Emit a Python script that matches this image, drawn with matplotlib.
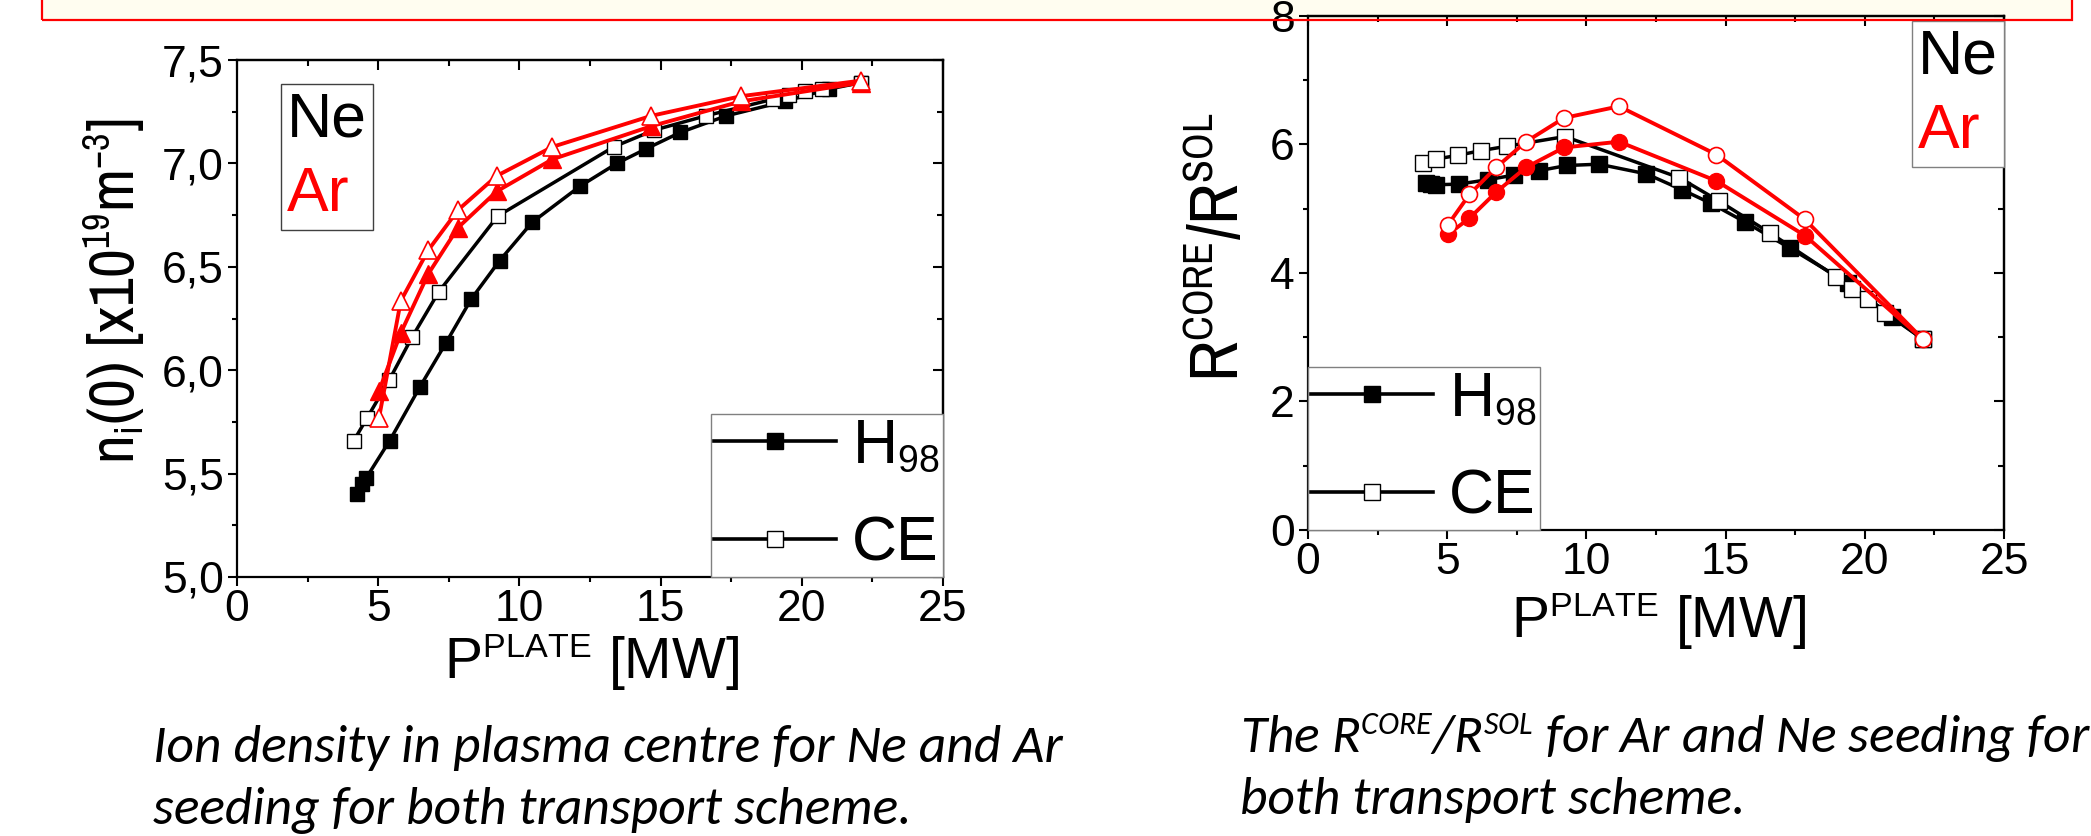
import matplotlib
matplotlib.use("Agg")
import matplotlib.pyplot as plt
import matplotlib.font_manager as fm
import matplotlib._mathtext as _mt
from matplotlib.lines import Line2D
from matplotlib.patches import Rectangle
from matplotlib.ticker import MultipleLocator, FuncFormatter

# ---------------- data ----------------
# Ne seeding, H98 transport (filled squares)
p_ne_h98 = [4.24, 4.42, 4.58, 5.41, 6.48, 7.39, 8.30, 9.30, 10.45, 12.15,
            13.45, 14.48, 15.70, 17.33, 19.40, 20.98, 22.08]
ni_ne_h98 = [5.40, 5.45, 5.48, 5.66, 5.92, 6.13, 6.345, 6.53, 6.715, 6.89,
             7.00, 7.07, 7.15, 7.23, 7.30, 7.36, 7.39]
r_ne_h98 = [5.39, 5.38, 5.37, 5.38, 5.45, 5.52, 5.59, 5.67, 5.69, 5.54,
            5.29, 5.08, 4.79, 4.38, 3.84, 3.32, 2.97]

# Ne seeding, CE transport (open squares)
p_ne_ce = [4.14, 4.61, 5.40, 6.20, 7.15, 9.23, 13.34, 14.75, 16.60, 18.97,
           19.53, 20.13, 20.73, 22.08]
ni_ne_ce = [5.66, 5.77, 5.955, 6.16, 6.38, 6.745, 7.08, 7.16, 7.23, 7.31,
            7.33, 7.35, 7.36, 7.39]
r_ne_ce = [5.71, 5.77, 5.83, 5.90, 5.97, 6.12, 5.48, 5.12, 4.62, 3.94,
           3.75, 3.59, 3.38, 2.97]

# Ar seeding (red): filled = H98, open = CE
p_ar = [5.03, 5.80, 6.77, 7.83, 9.20, 11.17, 14.67, 17.85, 22.08]
ni_ar_h98 = [5.90, 6.18, 6.465, 6.69, 6.865, 7.02, 7.18, 7.30, 7.39]
ni_ar_ce = [5.77, 6.335, 6.58, 6.775, 6.94, 7.08, 7.23, 7.325, 7.40]
r_ar_h98 = [4.60, 4.85, 5.26, 5.64, 5.95, 6.04, 5.43, 4.58, 2.97]
r_ar_ce = [4.75, 5.22, 5.645, 6.04, 6.41, 6.59, 5.84, 4.83, 2.97]

scheme_labels = ["H$_{98}$", "CE"]
gas_labels = ["Ne", "Ar"]
caption_left = ["Ion density in plasma centre for Ne and Ar",
                "seeding for both transport scheme."]
caption_right = ["The $R^{CORE}/R^{SOL}$ for Ar and Ne seeding for",
                 "both transport scheme."]

# ---------------- style ----------------
_mt.SHRINK_FACTOR = 0.6          # smaller super/subscripts, as in the original
plt.rcParams['font.family'] = ['Liberation Sans', 'DejaVu Sans']
plt.rcParams['mathtext.fontset'] = 'custom'
plt.rcParams['mathtext.rm'] = 'Liberation Sans'
plt.rcParams['mathtext.default'] = 'regular'

_fams = {f.name for f in fm.fontManager.ttflist}
if 'Carlito' in _fams:
    CAP_FAMILY, CAP_SIZE = ['Carlito', 'DejaVu Sans'], 38.5
else:
    CAP_FAMILY, CAP_SIZE = ['Open Sans', 'DejaVu Sans'], 34.5
if 'Archivo Narrow' in _fams:
    YLAB_FAMILY, YL1, YL2 = ['Archivo Narrow', 'Liberation Sans'], 45.5, 50
else:
    YLAB_FAMILY, YL1, YL2 = ['Liberation Sans', 'DejaVu Sans'], 39.5, 42.5

W, H = 2091, 836
fig = plt.figure(figsize=(W / 100, H / 100), dpi=100)
RED = '#FF0000'
CREAM = '#FFFDF0'


def fx(px):
    return px / W


def fy(py):
    return 1 - py / H


# banner box at the top
fig.add_artist(Rectangle((fx(42), fy(20)), fx(2072) - fx(42), 0.1,
                         transform=fig.transFigure, facecolor=CREAM,
                         edgecolor='none', zorder=-5))
fig.add_artist(Rectangle((fx(42), fy(20)), fx(2072) - fx(42), 0.1,
                         transform=fig.transFigure, fill=False,
                         edgecolor=RED, linewidth=1.6, zorder=20))

ax1 = fig.add_axes([fx(237), fy(577), fx(943) - fx(237), fy(60) - fy(577)])
ax2 = fig.add_axes([fx(1308), fy(530), fx(2004) - fx(1308), fy(15.7) - fy(530)])


def style(ax, ymaj, ymin, yfmt):
    ax.set_facecolor('none')
    for s in ax.spines.values():
        s.set_linewidth(1.6)
    ax.xaxis.set_major_locator(MultipleLocator(5))
    ax.xaxis.set_minor_locator(MultipleLocator(2.5))
    ax.yaxis.set_major_locator(MultipleLocator(ymaj))
    ax.yaxis.set_minor_locator(MultipleLocator(ymin))
    ax.xaxis.set_major_formatter(FuncFormatter(lambda v, p: f"{v:g}"))
    ax.yaxis.set_major_formatter(FuncFormatter(yfmt))
    ax.tick_params(which='major', direction='out', length=6.5, width=1.5,
                   labelsize=32, top=False, right=False)
    ax.tick_params(which='minor', direction='out', length=3.8, width=1.5,
                   top=False, right=False)
    ax.tick_params(axis='x', which='major', pad=2)
    ax.tick_params(axis='y', which='major', pad=3)
    sx = ax.secondary_xaxis('top')
    sx.xaxis.set_major_locator(MultipleLocator(5))
    sx.xaxis.set_minor_locator(MultipleLocator(2.5))
    sx.tick_params(which='major', direction='in', length=7, width=1.5, labeltop=False)
    sx.tick_params(which='minor', direction='in', length=4.5, width=1.5, labeltop=False)
    sx.spines['top'].set_linewidth(1.6)
    sy = ax.secondary_yaxis('right')
    sy.yaxis.set_major_locator(MultipleLocator(ymaj))
    sy.yaxis.set_minor_locator(MultipleLocator(ymin))
    sy.tick_params(which='major', direction='in', length=7, width=1.5, labelright=False)
    sy.tick_params(which='minor', direction='in', length=4.5, width=1.5, labelright=False)
    sy.spines['right'].set_linewidth(1.6)


LW_K, LW_R = 2.5, 2.8

# ---------------- left panel ----------------
ax1.set_xlim(0, 25)
ax1.set_ylim(5.0, 7.5)
style(ax1, 0.5, 0.25, lambda v, p: f"{v:.1f}".replace('.', ','))
ax1.plot(p_ne_h98, ni_ne_h98, color='k', lw=LW_K, marker='s', ms=10.5,
         mfc='k', mec='k', zorder=3)
ax1.plot(p_ne_ce, ni_ne_ce, color='k', lw=LW_K, marker='s', ms=10.5,
         mfc='white', mec='k', mew=1.0, zorder=3)
ax1.plot(p_ar, ni_ar_h98, color=RED, lw=LW_R, marker='^', ms=13,
         mfc=RED, mec=RED, zorder=4)
ax1.plot(p_ar, ni_ar_ce, color=RED, lw=LW_R, marker='^', ms=13,
         mfc='white', mec=RED, mew=1.2, zorder=4)
ax1.set_ylabel(r"n$_{i}$(0) [x10$^{19}$m$^{-3}$]", fontsize=YL1,
               fontfamily=YLAB_FAMILY)
ax1.yaxis.set_label_coords(-0.127, 0.553)
ax1.set_xlabel(r"P$^{PLATE}$ [MW]", fontsize=41)
ax1.xaxis.set_label_coords(0.502, -0.104)

# ---------------- right panel ----------------
ax2.set_xlim(0, 25)
ax2.set_ylim(0, 8)
style(ax2, 2, 1, lambda v, p: f"{v:g}")
ax2.plot(p_ne_h98, r_ne_h98, color='k', lw=LW_K, marker='s', ms=11,
         mfc='k', mec='k', zorder=3)
ax2.plot(p_ne_ce, r_ne_ce, color='k', lw=LW_K, marker='s', ms=11,
         mfc='white', mec='k', mew=1.0, zorder=3)
ax2.plot(p_ar, r_ar_h98, color=RED, lw=LW_R, marker='o', ms=11.5,
         mfc=RED, mec=RED, zorder=4)
ax2.plot(p_ar, r_ar_ce, color=RED, lw=LW_R, marker='o', ms=11.5,
         mfc='white', mec=RED, mew=1.2, zorder=4)
ax2.set_ylabel(r"R$^{CORE}$/R$^{SOL}$", fontsize=YL2, fontfamily=YLAB_FAMILY)
ax2.yaxis.set_label_coords(-0.081, 0.549)
ax2.set_xlabel(r"P$^{PLATE}$ [MW]", fontsize=41)
ax2.xaxis.set_label_coords(0.503, -0.116)


# ---------------- legends ----------------
def scheme_legend(ax, loc, anchor):
    handles = [Line2D([], [], color='k', lw=2.6, marker='s', ms=11, mfc='k', mec='k'),
               Line2D([], [], color='k', lw=2.6, marker='s', ms=11, mfc='white',
                      mec='k', mew=1.0)]
    leg = ax.legend(handles, scheme_labels, loc=loc, bbox_to_anchor=anchor,
                    borderaxespad=0, fontsize=45, handlelength=1.95,
                    handletextpad=0.26, borderpad=0.05, labelspacing=0.62,
                    fancybox=False, edgecolor='#808080', framealpha=1)
    leg.get_frame().set_linewidth(1.0)
    return leg


def gas_legend(ax, loc, anchor, edge):
    handles = [Line2D([], [], linestyle='none') for _ in gas_labels]
    leg = ax.legend(handles, gas_labels, loc=loc, bbox_to_anchor=anchor,
                    borderaxespad=0, fontsize=45, handlelength=0,
                    handletextpad=0, borderpad=0.1, labelspacing=0.25,
                    labelcolor=['black', RED], fancybox=False,
                    edgecolor=edge, framealpha=1)
    leg.get_frame().set_linewidth(1.0)
    return leg


l1 = scheme_legend(ax1, 'lower right', (1, 0))
ax1.add_artist(l1)
gas_legend(ax1, 'upper left', (43.6 / 706, 1 - 24 / 517), '#404040')

l2 = scheme_legend(ax2, 'lower left', (0, 0))
ax2.add_artist(l2)
gas_legend(ax2, 'upper right', (1, (530 - 21) / 514.3), '#808080')

# ---------------- captions ----------------
cap_kw = dict(fontfamily=CAP_FAMILY, fontstyle='italic',
              fontsize=CAP_SIZE, va='baseline', ha='left')
fig.text(fx(153), fy(762), caption_left[0], **cap_kw)
fig.text(fx(153), fy(824), caption_left[1], **cap_kw)
fig.text(fx(1240), fy(752), caption_right[0], **cap_kw)
fig.text(fx(1240), fy(814), caption_right[1], **cap_kw)

fig.savefig('out.png', dpi=100)
